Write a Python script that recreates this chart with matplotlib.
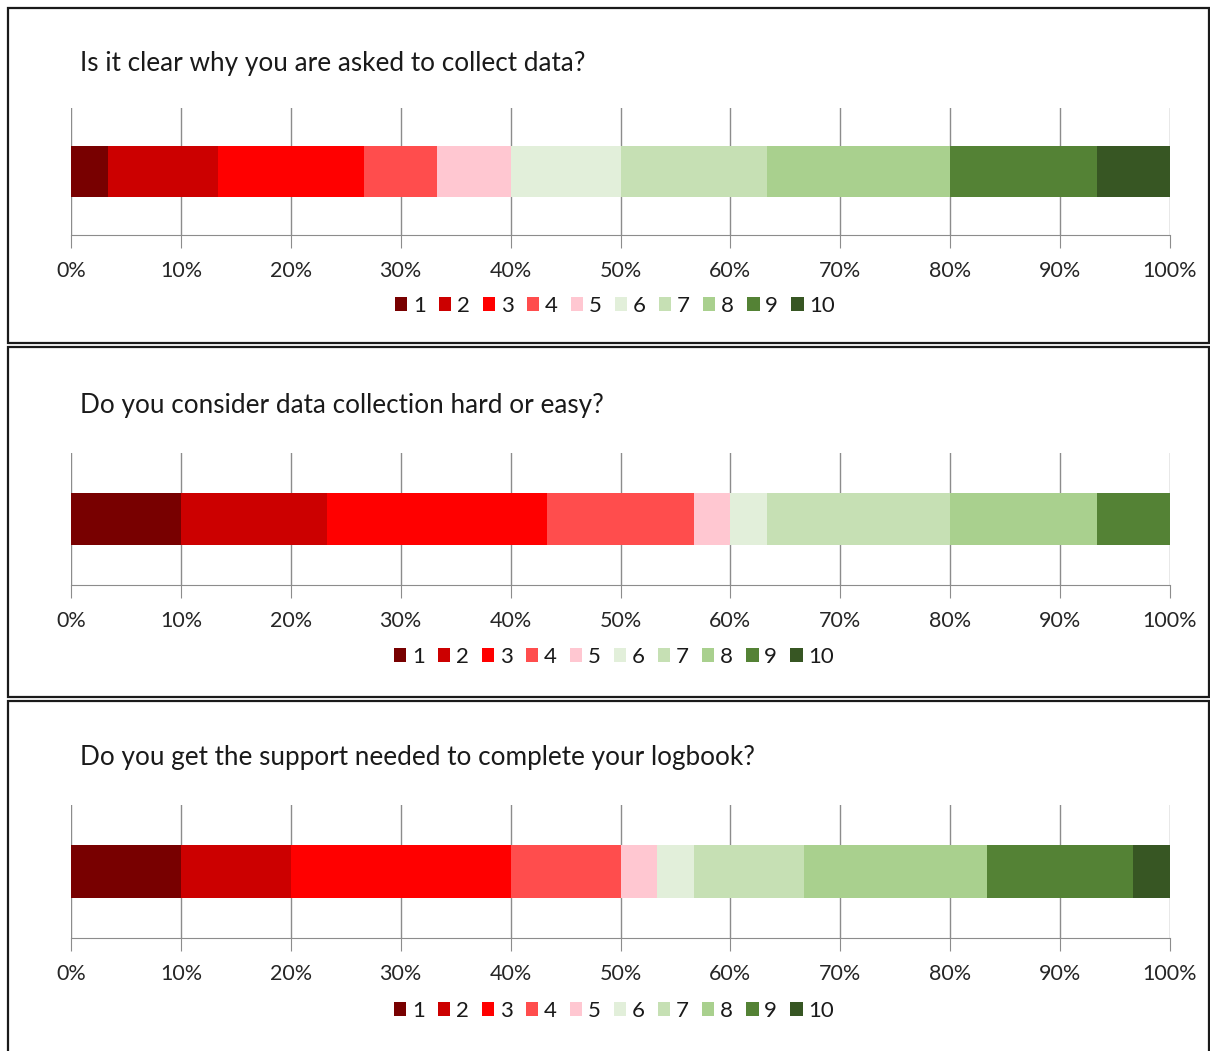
import matplotlib
matplotlib.use('Agg')
import matplotlib.pyplot as plt
from matplotlib.patches import Rectangle

plt.rcParams['font.family'] = ['Lato', 'DejaVu Sans']

W, H = 1210, 1051

questions = [
    'Is it clear why you are asked to collect data?',
    'Do you consider data collection hard or easy?',
    'Do you get the support needed to complete your logbook?',
]
levels = ['1', '2', '3', '4', '5', '6', '7', '8', '9', '10']
# respondents per score (30 in total)
clear_why = [1, 3, 4, 2, 2, 3, 4, 5, 4, 2]
hard_easy = [3, 4, 6, 4, 1, 1, 5, 4, 2, 0]
support = [3, 3, 6, 3, 1, 1, 3, 5, 4, 1]
colors = ['#780000', '#cc0000', '#ff0000', '#ff4d4d', '#ffc7d1',
          '#e2efda', '#c6e0b4', '#a9d08e', '#548235', '#375623']
ticks = [0, 10, 20, 30, 40, 50, 60, 70, 80, 90, 100]

# pixel layout: box top/bottom, axes top/bottom, title y, legend x/y
boxes = [(8, 343), (347, 697), (701, 1060)]
axes_y = [(108, 235), (453, 585), (805, 938)]
title_y = [63, 406, 758]
legend_xy = [(615, 306), (614, 657), (614, 1011)]
x0, x1 = 71, 1170

fig = plt.figure(figsize=(W / 100, H / 100), dpi=100)

for i, counts in enumerate([clear_why, hard_easy, support]):
    top, bot = boxes[i]
    fig.patches.append(Rectangle((8 / W, 1 - bot / H), (1209 - 8) / W, (bot - top) / H,
                                 transform=fig.transFigure, fill=False,
                                 edgecolor='#1a1a1a', linewidth=1.6))
    at, ab = axes_y[i]
    ax = fig.add_axes([x0 / W, 1 - ab / H, (x1 - x0) / W, (ab - at) / H])
    total = sum(counts)
    left = 0
    for lvl, n, c in zip(levels, counts, colors):
        w = n / total * 100
        ax.barh(0.5, w, left=left, height=0.4, color=c, label=lvl, zorder=2)
        left += w
    ax.set_xlim(0, 100)
    ax.set_ylim(0, 1)
    ax.set_yticks([])
    ax.set_xticks(ticks)
    ax.set_xticklabels([f'{t}%' for t in ticks])
    ax.grid(axis='x', color='#8c8c8c', linewidth=1, zorder=0)
    for s in ['top', 'left', 'right']:
        ax.spines[s].set_visible(False)
    ax.spines['bottom'].set_color('#8c8c8c')
    ax.tick_params(axis='x', length=9, color='#8c8c8c', labelsize=15.5,
                   labelcolor='#262626', pad=10)
    fig.text(80 / W, 1 - title_y[i] / H, questions[i], fontsize=18.8,
             color='#1a1a1a', va='center', ha='left')
    lx, ly = legend_xy[i]
    ax.legend(loc='center', bbox_to_anchor=(lx / W, 1 - ly / H),
              bbox_transform=fig.transFigure, ncol=10, frameon=False,
              handlelength=0.55, handleheight=0.6, handletextpad=0.25,
              columnspacing=0.6, fontsize=16, labelcolor='#1a1a1a')

fig.savefig('out.png', dpi=100)
